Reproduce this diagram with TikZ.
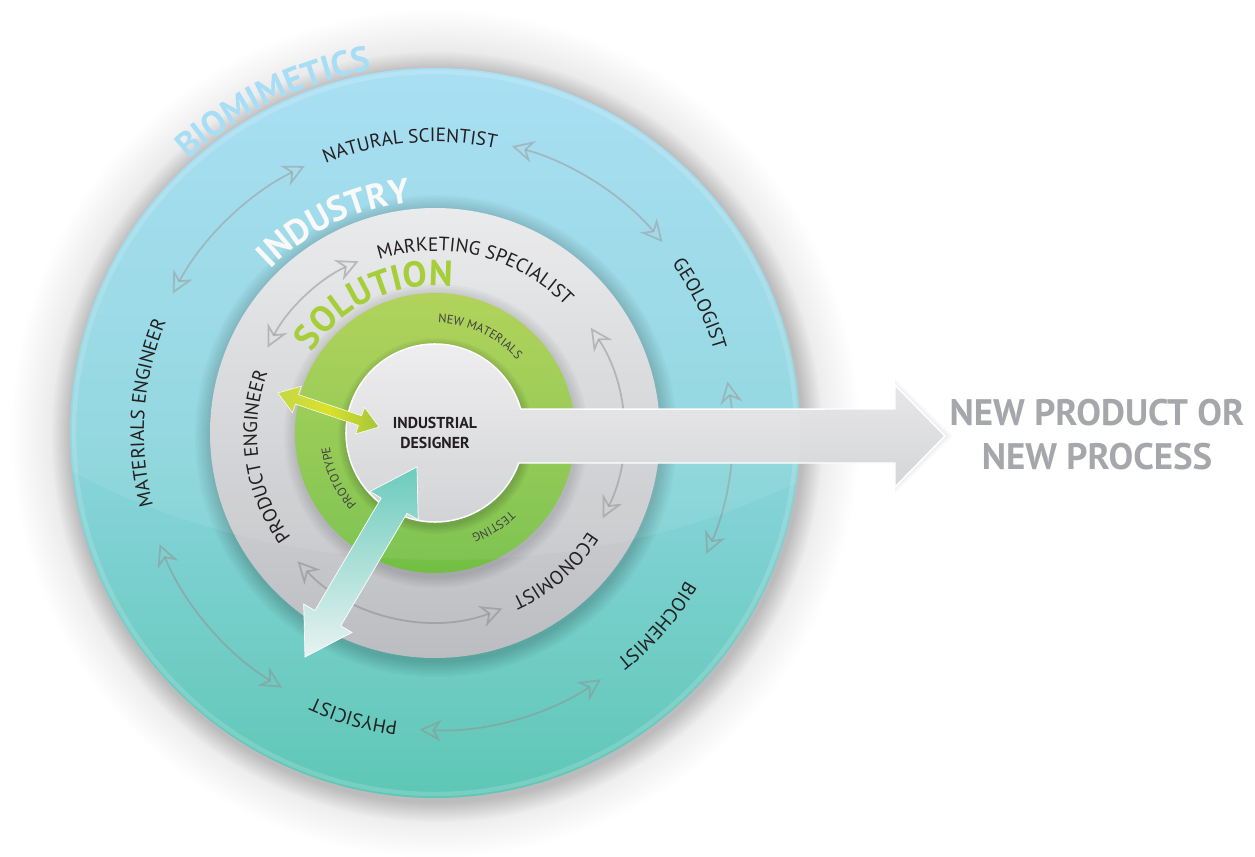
\documentclass[tikz,border=0pt]{standalone}
\usepackage{fontspec}
\setmainfont{PT Sans}
\usetikzlibrary{arrows.meta}
\usetikzlibrary{decorations.text}
\tikzset{>=latex}
\definecolor{bluetop}{RGB}{163,221,243}
\definecolor{bluemid}{RGB}{140,213,222}
\definecolor{bluebot}{RGB}{94,199,181}
\definecolor{graytop}{RGB}{233,234,235}
\definecolor{graybot}{RGB}{188,189,193}
\definecolor{greentop}{RGB}{172,208,78}
\definecolor{greenbot}{RGB}{114,191,68}
\definecolor{coretop}{RGB}{239,239,240}
\definecolor{corebot}{RGB}{205,206,209}
\definecolor{halogray}{RGB}{226,226,227}
\definecolor{labelink}{RGB}{35,31,32}
\definecolor{biotitle}{RGB}{168,222,245}
\definecolor{soltitle}{RGB}{166,206,57}
\definecolor{outtitle}{RGB}{165,167,170}
\definecolor{pinleft}{RGB}{196,216,72}
\definecolor{pinmid}{RGB}{218,225,42}
\definecolor{pinright}{RGB}{166,197,60}
\definecolor{tealtop}{RGB}{108,203,189}
\definecolor{tealbot}{RGB}{232,243,241}
\pgfdeclareradialshading{halo}{\pgfpoint{0bp}{0bp}}{color(0bp)=(halogray); color(21.4bp)=(halogray); color(25bp)=(white); color(50bp)=(white)}

\tikzset{
  bluearrow/.style={draw=gray!85, line width=1pt, opacity=0.55,
    {Stealth[open,length=12.5pt,width=12.5pt,inset=4pt]}-{Stealth[open,length=12.5pt,width=12.5pt,inset=4pt]}},
  grayarrow/.style={bluearrow, draw=gray!90, opacity=0.55},
}
\newcommand\ringfont{\fontsize{11}{13}\selectfont\color{labelink}}
\newcommand\coreringfont{\fontsize{7}{9}\selectfont\color{labelink!85}}
% text set along a clockwise arc, centred on angle #1
\newcommand\ringtext[4]{%
  \path[decorate, decoration={text along path, text align=center, text={|#3|#4}}]
    ({#1+70}:#2) arc[start angle={#1+70}, end angle={#1-70}, radius=#2];}

\begin{document}
\begin{tikzpicture}[x=0.02cm, y=0.02cm]
  \useasboundingbox (-435,-423) rectangle (820,433);

  % halo and the biomimetics ring
  \shade[shading=halo] (0,0) circle (425);
  \foreach \k in {1,...,10}
    \fill[black, opacity=0.015] (2,-4) circle ({365+\k*2});
  \shade[top color=bluetop, bottom color=bluebot, middle color=bluemid] (0,0) circle (365);
  \draw[white, opacity=0.15, line width=2.5pt] (0,0) circle (361);
  \foreach \a/\b in {152/116, 75/40, 10/-24, -56/-93, 239/202}
    \draw[bluearrow] (\a:297) arc[start angle=\a, end angle=\b, radius=297];

  % industry ring
  \foreach \k in {1,...,8}
    \fill[black, opacity=0.025] (1,-3) circle ({225+\k*2});
  \shade[top color=graytop, bottom color=graybot] (0,0) circle (225);
  \foreach \a/\b in {153/114, 34/-27, -69/-137}
    \draw[grayarrow] (\a:188) arc[start angle=\a, end angle=\b, radius=188];

  % solution ring
  \foreach \k in {1,...,6}
    \fill[black, opacity=0.025] (1,-3) circle ({140+\k*2});
  \shade[top color=greentop, bottom color=greenbot] (0,0) circle (140);

  % designer disc with the outgoing arrow
  \foreach \k in {1,...,6}
    \fill[black, opacity=0.03] (1,-3) circle ({89+\k*1.5});
  \foreach \k in {1,...,6}
    \fill[black, opacity=0.012] (460,{48+\k}) -- ({510+\k*1.5},-3) -- (460,{-54-\k}) -- cycle;
  \shadedraw[top color=coretop, bottom color=corebot, draw=white, line width=0.85pt]
    (15.64:89) -- (460,24) -- (460,48) -- (510,-3) -- (460,-54) -- (460,-30)
    -- (-19.7:89) arc[start angle=-19.7, end angle=-344.36, radius=89] -- cycle;

  % gloss over the upper part
  \begin{scope}
    \clip (0,0) circle (365);
    \fill[white, opacity=0.08] (10,283) ellipse (600 and 410);
  \end{scope}

  % ring titles
  \ringtext{116}{368}{\bfseries\fontsize{20}{24}\selectfont\color{biotitle}}{BIOMIMETICS}
  \ringtext{115.5}{232}{\bfseries\fontsize{20}{24}\selectfont\color{white!95!gray}}{INDUSTRY}
  \ringtext{115}{147}{\bfseries\fontsize{20.5}{24}\selectfont\color{soltitle}}{SOLUTION}

  % specialists
  \ringtext{95}{291}{\ringfont}{NATURAL SCIENTIST}
  \ringtext{26}{291}{\ringfont}{GEOLOGIST}
  \ringtext{-41}{291}{\ringfont}{BIOCHEMIST}
  \ringtext{-106}{291}{\ringfont}{PHYSICIST}
  \ringtext{176}{291}{\ringfont}{MATERIALS ENGINEER}
  \ringtext{76}{182}{\ringfont}{MARKETING SPECIALIST}
  \ringtext{-49}{182}{\ringfont}{ECONOMIST}
  \ringtext{188}{178}{\ringfont}{PRODUCT ENGINEER}
  \ringtext{65}{110}{\coreringfont}{NEW MATERIALS}
  \ringtext{-58}{108}{\coreringfont}{TESTING}
  \ringtext{205}{106}{\coreringfont}{PROTOTYPE}

  \node[align=center, font=\bfseries\fontsize{9}{11.3}\selectfont, text=labelink]
    (designer) at (0,0) {INDUSTRIAL\\DESIGNER};
  \node[align=center, font=\bfseries\fontsize{21}{25}\selectfont, text=outtitle]
    (outcome) at (662,-2) {NEW PRODUCT OR\\NEW PROCESS};

  % product engineer <-> designer
  \coordinate (pe) at (-157,40);
  \begin{scope}[shift={(pe)}, rotate=-18.6]
    \shadedraw[left color=pinleft, right color=pinright, middle color=pinmid,
      draw=white, line width=0.3pt]
      (0,0) -- (20,14) -- (20,5) -- (86.6,5) -- (86.6,14) -- (106.6,0)
      -- (86.6,-14) -- (86.6,-5) -- (20,-5) -- (20,-14) -- cycle;
  \end{scope}

  % physicist side <-> designer
  \coordinate (ph) at (-130,-224);
  \begin{scope}[shift={(ph)}, rotate=59.5]
    \shadedraw[top color=tealtop, bottom color=tealbot,
      draw=white, line width=0.4pt]
      (0,0) -- (45,28) -- (45,15) -- (175.6,15) -- (175.6,28) -- (220.6,0)
      -- (175.6,-28) -- (175.6,-15) -- (45,-15) -- (45,-28) -- cycle;
  \end{scope}
\end{tikzpicture}
\end{document}
